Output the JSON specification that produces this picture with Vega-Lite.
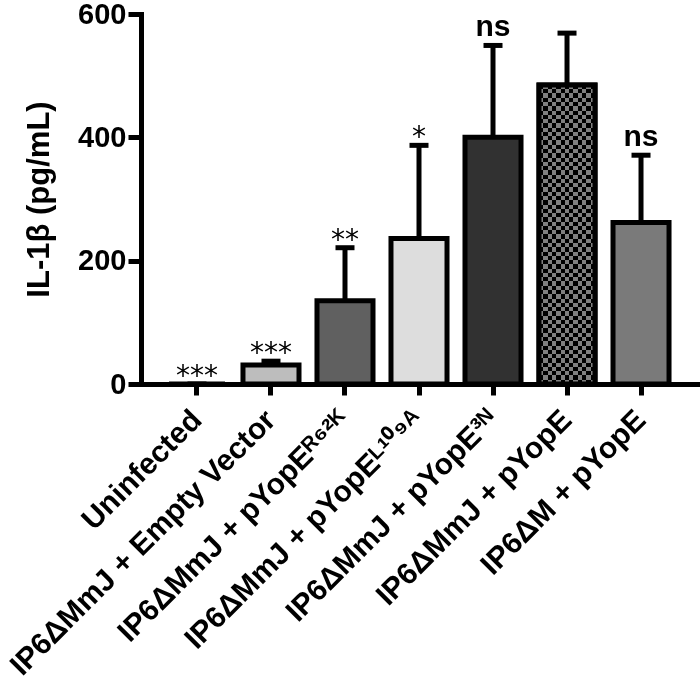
{
  "$schema": "https://vega.github.io/schema/vega-lite/v6.json",
  "width": 556,
  "height": 370,
  "autosize": {"type": "none"},
  "padding": {"left": 141, "top": 14, "right": 3, "bottom": 300},
  "background": "white",
  "config": {"view": {"stroke": null}, "font": "Liberation Sans"},
  "data": {
    "values": [
      {"group": "Uninfected", "mean": 0, "err": 0, "sig": "***", "kind": "star"},
      {"group": "IP6ΔMmJ + Empty Vector", "mean": 31, "err": 37, "sig": "***", "kind": "star"},
      {"group": "IP6ΔMmJ + pYopEᴿ⁶²ᴷ", "mean": 135, "err": 221, "sig": "**", "kind": "star"},
      {"group": "IP6ΔMmJ + pYopEᴸ¹⁰⁹ᴬ", "mean": 236, "err": 387, "sig": "*", "kind": "star"},
      {"group": "IP6ΔMmJ + pYopE³ᴺ", "mean": 400, "err": 549, "sig": "ns", "kind": "ns"},
      {"group": "IP6ΔMmJ + pYopE", "mean": 485, "err": 569, "sig": "", "kind": "checker"},
      {"group": "IP6ΔM + pYopE", "mean": 262, "err": 371, "sig": "ns", "kind": "ns"}
    ]
  },
  "encoding": {
    "x": {
      "field": "group",
      "type": "nominal",
      "sort": null,
      "scale": {
        "domain": ["Uninfected", "IP6ΔMmJ + Empty Vector", "IP6ΔMmJ + pYopEᴿ⁶²ᴷ", "IP6ΔMmJ + pYopEᴸ¹⁰⁹ᴬ", "IP6ΔMmJ + pYopE³ᴺ", "IP6ΔMmJ + pYopE", "IP6ΔM + pYopE"],
        "paddingInner": 0.243,
        "paddingOuter": 0.378
      },
      "axis": {
        "title": null,
        "labelAngle": -45,
        "labelAlign": "right",
        "labelBaseline": "middle",
        "labelFontSize": 30,
        "labelFontWeight": "bold",
        "labelColor": "black",
        "labelLimit": 0,
        "labelPadding": 20,
        "tickSize": 11,
        "tickWidth": 5,
        "tickColor": "black",
        "domainWidth": 5,
        "domainColor": "black",
        "domainCap": "square"
      }
    }
  },
  "layer": [
    {
      "mark": {"type": "rule", "strokeWidth": 5, "color": "black"},
      "encoding": {
        "y": {"field": "mean", "type": "quantitative"},
        "y2": {"field": "err"}
      }
    },
    {
      "mark": {"type": "bar", "stroke": "black", "strokeWidth": 5},
      "encoding": {
        "y": {
          "field": "mean",
          "type": "quantitative",
          "scale": {"domain": [0, 600], "nice": false},
          "axis": {
            "title": "IL-1β (pg/mL)",
            "titleFontSize": 31,
            "titleFontWeight": "bold",
            "titleColor": "black",
            "titlePadding": 22,
            "values": [0, 200, 400, 600],
            "labelFontSize": 29,
            "labelFontWeight": "bold",
            "labelColor": "black",
            "labelPadding": 2,
            "tickSize": 13,
            "tickWidth": 5,
            "tickColor": "black",
            "domainWidth": 5,
            "domainColor": "black",
            "domainCap": "square",
            "grid": false
          }
        },
        "fill": {
          "field": "group",
          "type": "nominal",
          "legend": null,
          "scale": {
            "domain": ["Uninfected", "IP6ΔMmJ + Empty Vector", "IP6ΔMmJ + pYopEᴿ⁶²ᴷ", "IP6ΔMmJ + pYopEᴸ¹⁰⁹ᴬ", "IP6ΔMmJ + pYopE³ᴺ", "IP6ΔMmJ + pYopE", "IP6ΔM + pYopE"],
            "range": ["#ffffff", "#bdbdbd", "#606060", "#dddddd", "#313131", "#4a4a4a", "#7a7a7a"]
          }
        }
      }
    },
    {
      "transform": [{"filter": "datum.kind == 'checker'"}],
      "mark": {
        "type": "bar",
        "strokeWidth": 0,
        "fill": {
          "gradient": "linear", "x1": 0, "y1": 0, "x2": 1, "y2": 0,
          "stops": [
            {"offset": 0, "color": "#000000"}, {"offset": 0.0769, "color": "#000000"},
            {"offset": 0.0769, "color": "#808080"}, {"offset": 0.1538, "color": "#808080"},
            {"offset": 0.1538, "color": "#000000"}, {"offset": 0.2308, "color": "#000000"},
            {"offset": 0.2308, "color": "#808080"}, {"offset": 0.3077, "color": "#808080"},
            {"offset": 0.3077, "color": "#000000"}, {"offset": 0.3846, "color": "#000000"},
            {"offset": 0.3846, "color": "#808080"}, {"offset": 0.4615, "color": "#808080"},
            {"offset": 0.4615, "color": "#000000"}, {"offset": 0.5385, "color": "#000000"},
            {"offset": 0.5385, "color": "#808080"}, {"offset": 0.6154, "color": "#808080"},
            {"offset": 0.6154, "color": "#000000"}, {"offset": 0.6923, "color": "#000000"},
            {"offset": 0.6923, "color": "#808080"}, {"offset": 0.7692, "color": "#808080"},
            {"offset": 0.7692, "color": "#000000"}, {"offset": 0.8462, "color": "#000000"},
            {"offset": 0.8462, "color": "#808080"}, {"offset": 0.9231, "color": "#808080"},
            {"offset": 0.9231, "color": "#000000"}, {"offset": 1, "color": "#000000"}
          ]
        }
      },
      "encoding": {
        "y": {"field": "mean", "type": "quantitative"}
      }
    },
    {
      "transform": [{"filter": "datum.kind == 'checker'"}],
      "mark": {
        "type": "bar",
        "strokeWidth": 0,
        "blend": "difference",
        "fill": {
          "gradient": "linear", "x1": 0, "y1": 0, "x2": 0, "y2": 1,
          "stops": [
            {"offset": 0, "color": "#000000"}, {"offset": 0.01429, "color": "#000000"},
            {"offset": 0.01429, "color": "#808080"}, {"offset": 0.02857, "color": "#808080"},
            {"offset": 0.02857, "color": "#000000"}, {"offset": 0.04286, "color": "#000000"},
            {"offset": 0.04286, "color": "#808080"}, {"offset": 0.05714, "color": "#808080"},
            {"offset": 0.05714, "color": "#000000"}, {"offset": 0.07143, "color": "#000000"},
            {"offset": 0.07143, "color": "#808080"}, {"offset": 0.08571, "color": "#808080"},
            {"offset": 0.08571, "color": "#000000"}, {"offset": 0.1, "color": "#000000"},
            {"offset": 0.1, "color": "#808080"}, {"offset": 0.11429, "color": "#808080"},
            {"offset": 0.11429, "color": "#000000"}, {"offset": 0.12857, "color": "#000000"},
            {"offset": 0.12857, "color": "#808080"}, {"offset": 0.14286, "color": "#808080"},
            {"offset": 0.14286, "color": "#000000"}, {"offset": 0.15714, "color": "#000000"},
            {"offset": 0.15714, "color": "#808080"}, {"offset": 0.17143, "color": "#808080"},
            {"offset": 0.17143, "color": "#000000"}, {"offset": 0.18571, "color": "#000000"},
            {"offset": 0.18571, "color": "#808080"}, {"offset": 0.2, "color": "#808080"},
            {"offset": 0.2, "color": "#000000"}, {"offset": 0.21429, "color": "#000000"},
            {"offset": 0.21429, "color": "#808080"}, {"offset": 0.22857, "color": "#808080"},
            {"offset": 0.22857, "color": "#000000"}, {"offset": 0.24286, "color": "#000000"},
            {"offset": 0.24286, "color": "#808080"}, {"offset": 0.25714, "color": "#808080"},
            {"offset": 0.25714, "color": "#000000"}, {"offset": 0.27143, "color": "#000000"},
            {"offset": 0.27143, "color": "#808080"}, {"offset": 0.28571, "color": "#808080"},
            {"offset": 0.28571, "color": "#000000"}, {"offset": 0.3, "color": "#000000"},
            {"offset": 0.3, "color": "#808080"}, {"offset": 0.31429, "color": "#808080"},
            {"offset": 0.31429, "color": "#000000"}, {"offset": 0.32857, "color": "#000000"},
            {"offset": 0.32857, "color": "#808080"}, {"offset": 0.34286, "color": "#808080"},
            {"offset": 0.34286, "color": "#000000"}, {"offset": 0.35714, "color": "#000000"},
            {"offset": 0.35714, "color": "#808080"}, {"offset": 0.37143, "color": "#808080"},
            {"offset": 0.37143, "color": "#000000"}, {"offset": 0.38571, "color": "#000000"},
            {"offset": 0.38571, "color": "#808080"}, {"offset": 0.4, "color": "#808080"},
            {"offset": 0.4, "color": "#000000"}, {"offset": 0.41429, "color": "#000000"},
            {"offset": 0.41429, "color": "#808080"}, {"offset": 0.42857, "color": "#808080"},
            {"offset": 0.42857, "color": "#000000"}, {"offset": 0.44286, "color": "#000000"},
            {"offset": 0.44286, "color": "#808080"}, {"offset": 0.45714, "color": "#808080"},
            {"offset": 0.45714, "color": "#000000"}, {"offset": 0.47143, "color": "#000000"},
            {"offset": 0.47143, "color": "#808080"}, {"offset": 0.48571, "color": "#808080"},
            {"offset": 0.48571, "color": "#000000"}, {"offset": 0.5, "color": "#000000"},
            {"offset": 0.5, "color": "#808080"}, {"offset": 0.51429, "color": "#808080"},
            {"offset": 0.51429, "color": "#000000"}, {"offset": 0.52857, "color": "#000000"},
            {"offset": 0.52857, "color": "#808080"}, {"offset": 0.54286, "color": "#808080"},
            {"offset": 0.54286, "color": "#000000"}, {"offset": 0.55714, "color": "#000000"},
            {"offset": 0.55714, "color": "#808080"}, {"offset": 0.57143, "color": "#808080"},
            {"offset": 0.57143, "color": "#000000"}, {"offset": 0.58571, "color": "#000000"},
            {"offset": 0.58571, "color": "#808080"}, {"offset": 0.6, "color": "#808080"},
            {"offset": 0.6, "color": "#000000"}, {"offset": 0.61429, "color": "#000000"},
            {"offset": 0.61429, "color": "#808080"}, {"offset": 0.62857, "color": "#808080"},
            {"offset": 0.62857, "color": "#000000"}, {"offset": 0.64286, "color": "#000000"},
            {"offset": 0.64286, "color": "#808080"}, {"offset": 0.65714, "color": "#808080"},
            {"offset": 0.65714, "color": "#000000"}, {"offset": 0.67143, "color": "#000000"},
            {"offset": 0.67143, "color": "#808080"}, {"offset": 0.68571, "color": "#808080"},
            {"offset": 0.68571, "color": "#000000"}, {"offset": 0.7, "color": "#000000"},
            {"offset": 0.7, "color": "#808080"}, {"offset": 0.71429, "color": "#808080"},
            {"offset": 0.71429, "color": "#000000"}, {"offset": 0.72857, "color": "#000000"},
            {"offset": 0.72857, "color": "#808080"}, {"offset": 0.74286, "color": "#808080"},
            {"offset": 0.74286, "color": "#000000"}, {"offset": 0.75714, "color": "#000000"},
            {"offset": 0.75714, "color": "#808080"}, {"offset": 0.77143, "color": "#808080"},
            {"offset": 0.77143, "color": "#000000"}, {"offset": 0.78571, "color": "#000000"},
            {"offset": 0.78571, "color": "#808080"}, {"offset": 0.8, "color": "#808080"},
            {"offset": 0.8, "color": "#000000"}, {"offset": 0.81429, "color": "#000000"},
            {"offset": 0.81429, "color": "#808080"}, {"offset": 0.82857, "color": "#808080"},
            {"offset": 0.82857, "color": "#000000"}, {"offset": 0.84286, "color": "#000000"},
            {"offset": 0.84286, "color": "#808080"}, {"offset": 0.85714, "color": "#808080"},
            {"offset": 0.85714, "color": "#000000"}, {"offset": 0.87143, "color": "#000000"},
            {"offset": 0.87143, "color": "#808080"}, {"offset": 0.88571, "color": "#808080"},
            {"offset": 0.88571, "color": "#000000"}, {"offset": 0.9, "color": "#000000"},
            {"offset": 0.9, "color": "#808080"}, {"offset": 0.91429, "color": "#808080"},
            {"offset": 0.91429, "color": "#000000"}, {"offset": 0.92857, "color": "#000000"},
            {"offset": 0.92857, "color": "#808080"}, {"offset": 0.94286, "color": "#808080"},
            {"offset": 0.94286, "color": "#000000"}, {"offset": 0.95714, "color": "#000000"},
            {"offset": 0.95714, "color": "#808080"}, {"offset": 0.97143, "color": "#808080"},
            {"offset": 0.97143, "color": "#000000"}, {"offset": 0.98571, "color": "#000000"},
            {"offset": 0.98571, "color": "#808080"}, {"offset": 1, "color": "#808080"}
          ]
        }
      },
      "encoding": {
        "y": {"field": "mean", "type": "quantitative"}
      }
    },
    {
      "transform": [{"filter": "datum.kind == 'checker'"}],
      "mark": {"type": "bar", "fillOpacity": 0, "stroke": "black", "strokeWidth": 5},
      "encoding": {
        "y": {"field": "mean", "type": "quantitative"}
      }
    },
    {
      "mark": {"type": "tick", "size": 19, "thickness": 5, "color": "black", "opacity": 1},
      "encoding": {
        "y": {"field": "err", "type": "quantitative"}
      }
    },
    {
      "transform": [{"filter": "datum.kind == 'star'"}],
      "mark": {"type": "text", "font": "DejaVu Sans", "fontSize": 28, "baseline": "alphabetic", "dy": 1, "color": "black"},
      "encoding": {
        "y": {"field": "err", "type": "quantitative"},
        "text": {"field": "sig"}
      }
    },
    {
      "transform": [{"filter": "datum.kind == 'ns'"}],
      "mark": {"type": "text", "fontSize": 30, "fontWeight": "bold", "baseline": "alphabetic", "dy": -9, "color": "black"},
      "encoding": {
        "y": {"field": "err", "type": "quantitative"},
        "text": {"field": "sig"}
      }
    }
  ]
}
